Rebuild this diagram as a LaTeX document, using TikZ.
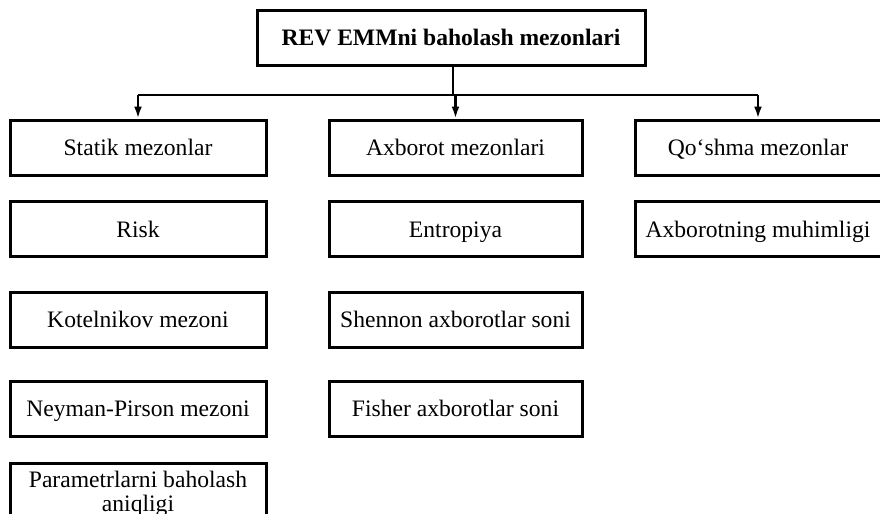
\documentclass[tikz,border=0pt]{standalone}
\usepackage{fontspec}
\setmainfont{Liberation Serif}
\usetikzlibrary{arrows.meta, positioning}

\begin{document}
\begin{tikzpicture}[x=0.5pt, y=-0.5pt,
    crit/.style={draw, line width=1.5pt, minimum height=27.5pt, inner sep=2pt, text height=9.6pt, text depth=1.4pt, align=center, font=\fontsize{11.8}{12.5}\selectfont},
    left_col/.style={crit, minimum width=128pt},
    mid_col/.style={crit, minimum width=126.5pt},
    right_col/.style={crit, minimum width=123pt},
    link/.style={line width=1.3pt}]
    \clip (0,0) rectangle (880,514);

    % root
    \node[crit, minimum width=194pt, font=\fontsize{11.8}{12.5}\selectfont\bfseries] (root) at (451,37.5) {REV EMMni baholash mezonlari};

    % three groups
    \node[left_col] (stat_crit) at (138,147.5) {Statik mezonlar};
    \node[mid_col] (info_crit) at (455.5,147.5) {Axborot mezonlari};
    \node[right_col] (joint_crit) at (758,147.5) {Qo‘shma mezonlar};

    % statik
    \node[left_col] (risk) at (138,229) {Risk};
    \node[left_col] (kotelnikov) at (138,319.5) {Kotelnikov mezoni};
    \node[left_col] (neyman) at (138,408.5) {Neyman-Pirson mezoni};
    \node[left_col, anchor=north, inner sep=1pt, text height=21.6pt, font=\fontsize{11.8}{12}\selectfont] (param_acc) at (138,462) {Parametrlarni baholash\\aniqligi};

    % axborot
    \node[mid_col] (entropy) at (455.5,229) {Entropiya};
    \node[mid_col] (shannon) at (455.5,319.5) {Shennon axborotlar soni};
    \node[mid_col] (fisher) at (455.5,408.5) {Fisher axborotlar soni};

    % qo'shma
    \node[right_col] (importance) at (758,229) {Axborotning muhimligi};

    % tree
    \coordinate (split) at (453,95);
    \draw[link] (root.south -| split) -- (split);
    \draw[link] (split -| stat_crit.north) -- (split -| joint_crit.north);
    \foreach \grp in {stat_crit, info_crit, joint_crit}
        \draw[link, -{Latex[length=6pt, width=4pt]}] (split -| \grp.north) -- (\grp.north);
\end{tikzpicture}
\end{document}
